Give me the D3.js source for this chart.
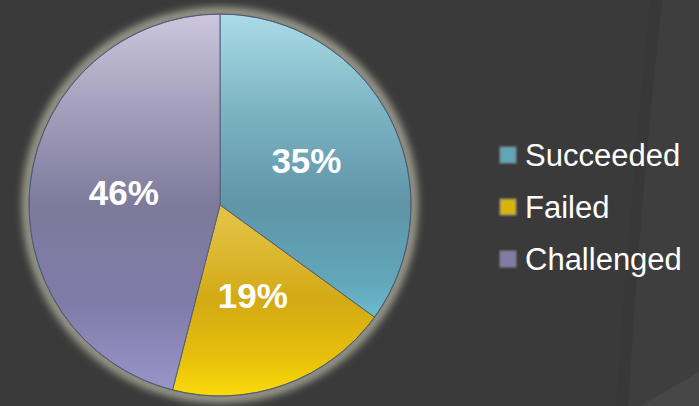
<!DOCTYPE html>
<html>
<head>
<meta charset="utf-8">
<script src="https://cdn.jsdelivr.net/npm/d3@7"></script>
<style>
  html, body { margin: 0; padding: 0; background: #3a3a3a; }
  svg { display: block; }
</style>
</head>
<body>
<div id="chart"></div>
<script>
const categories = ['Succeeded', 'Failed', 'Challenged'];
const values = [35, 19, 46];
const labels = ['35%', '19%', '46%'];

const width = 699, height = 406;
const cx = 220, cy = 205, radius = 191;

// gradient stops per slice (top -> bottom of the pie)
const stops = [
  [['0%', '#aadce6'], ['25%', '#7db4c4'], ['50%', '#5f95a7'], ['70%', '#62a6ba'], ['85%', '#74c8dd'], ['100%', '#7ad0e4']],
  [['0%', '#e8c448'], ['55%', '#e2c040'], ['75%', '#d3aa14'], ['90%', '#e6c00c'], ['100%', '#fadc0a']],
  [['0%', '#ccc7de'], ['25%', '#a39fbb'], ['50%', '#7e7a9c'], ['75%', '#7f7ba8'], ['100%', '#9b96ca']]
];
const swatch = ['#5fa6b9', '#d8b20c', '#817ca4'];

const svg = d3.select('#chart').append('svg')
  .attr('width', width)
  .attr('height', height);

const defs = svg.append('defs');

defs.append('filter').attr('id', 'glow')
  .attr('x', '-20%').attr('y', '-20%').attr('width', '140%').attr('height', '140%')
  .append('feGaussianBlur').attr('stdDeviation', 4);

defs.append('filter').attr('id', 'soft')
  .append('feGaussianBlur').attr('stdDeviation', 0.8);

// gradients in the pie group's coords (centre at 0,0)
stops.forEach((s, i) => {
  const gr = defs.append('linearGradient')
    .attr('id', 'grad' + i)
    .attr('gradientUnits', 'userSpaceOnUse')
    .attr('x1', 0).attr('y1', -radius)
    .attr('x2', 0).attr('y2', radius);
  s.forEach(d => gr.append('stop').attr('offset', d[0]).attr('stop-color', d[1]));
});

// background decoration
svg.append('rect').attr('width', width).attr('height', height).attr('fill', '#3a3a3a');
svg.append('path')
  .attr('d', 'M662,0 Q640,200 628,406 L699,406 L699,0 Z')
  .attr('fill', '#3e3e3e');
svg.append('path')
  .attr('d', 'M650,0 Q630,200 616,406 L628,406 Q640,200 662,0 Z')
  .attr('fill', '#373737')
  .attr('opacity', 0.6);
svg.append('path')
  .attr('d', 'M640,406 L699,372 L699,406 Z')
  .attr('fill', '#474747');

const g = svg.append('g').attr('transform', `translate(${cx},${cy})`);

// halo around the pie
g.append('circle')
  .attr('r', radius + 2)
  .attr('fill', 'none')
  .attr('stroke', '#b8b8a6')
  .attr('stroke-width', 8)
  .attr('filter', 'url(#glow)');

const pie = d3.pie().sort(null).value(d => d);
const arcs = pie(values);

const arc = d3.arc().innerRadius(0).outerRadius(radius);
const labelArc = d3.arc().innerRadius(97).outerRadius(97);

g.selectAll('.slice')
  .data(arcs)
  .enter().append('path')
    .attr('class', 'slice')
    .attr('d', arc)
    .style('fill', (d, i) => 'url(#grad' + i + ')')
    .style('stroke', '#55607a')
    .style('stroke-width', 1);

g.append('circle')
  .attr('r', radius)
  .attr('fill', 'none')
  .attr('stroke', '#4c5a70')
  .attr('stroke-width', 1)
  .attr('opacity', 0.7);

g.selectAll('.lbl')
  .data(arcs)
  .enter().append('text')
    .attr('class', 'lbl')
    .attr('x', d => labelArc.centroid(d)[0])
    .attr('y', d => labelArc.centroid(d)[1] + 12)
    .attr('text-anchor', 'middle')
    .style('font-family', '"Liberation Sans", Arial, sans-serif')
    .style('font-weight', 'bold')
    .style('font-size', '35px')
    .style('fill', '#ffffff')
    .text((d, i) => labels[i]);

// legend
const y = d3.scalePoint().domain(categories).range([155, 259]);

const legend = svg.append('g');
legend.selectAll('.sw')
  .data(categories)
  .enter().append('rect')
    .attr('class', 'sw')
    .attr('x', 500)
    .attr('y', d => y(d) - 8)
    .attr('width', 16)
    .attr('height', 16)
    .style('fill', (d, i) => swatch[i])
    .style('stroke', '#9a9a9a')
    .style('stroke-opacity', 0.4)
    .style('stroke-width', 1.5)
    .attr('filter', 'url(#soft)');

legend.selectAll('.lt')
  .data(categories)
  .enter().append('text')
    .attr('class', 'lt')
    .attr('x', 525)
    .attr('y', d => y(d) + 11)
    .style('font-family', '"Liberation Sans", Arial, sans-serif')
    .style('font-size', '31px')
    .style('fill', '#ffffff')
    .text(d => d);
</script>
</body>
</html>
